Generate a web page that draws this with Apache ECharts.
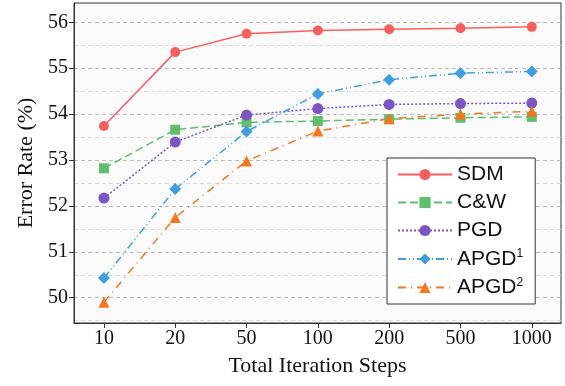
<!DOCTYPE html>
<html>
<head>
<meta charset="utf-8">
<script src="https://cdn.jsdelivr.net/npm/echarts@6/dist/echarts.min.js"></script>
<style>
  html, body { margin: 0; padding: 0; background: #fff; }
  #chart { width: 565px; height: 386px; }
</style>
</head>
<body>
<div id="chart"></div>
<script>
// x categories (total iteration steps)
const steps = ['10', '20', '50', '100', '200', '500', '1000'];

// error rate (%) per method
const sdm = [53.74, 55.35, 55.75, 55.82, 55.85, 55.87, 55.90];
const cw = [52.82, 53.66, 53.82, 53.85, 53.89, 53.92, 53.94];
const pgd = [52.17, 53.39, 53.98, 54.12, 54.21, 54.23, 54.24];
const apgd1 = [50.43, 52.37, 53.62, 54.44, 54.75, 54.89, 54.93];
const apgd2 = [49.90, 51.75, 52.98, 53.63, 53.90, 54.00, 54.06];

// y tick labels and half-step grid lines
const yTicks = [50, 51, 52, 53, 54, 55, 56];
const yHalf = [49.5, 50.5, 51.5, 52.5, 53.5, 54.5, 55.5];

const serif = '"Liberation Serif", "DejaVu Serif", serif';
const sans = '"Liberation Sans", Arial, sans-serif';

const chart = echarts.init(document.getElementById('chart'));

// index-based points so the outer padding matches the picture
const toPoints = (arr) => arr.map((v, i) => [i, v]);

const makeSeries = (name, data, color, symbol, size, dash) => ({
  name: name,
  type: 'line',
  data: toPoints(data),
  symbol: symbol,
  symbolSize: size,
  itemStyle: { color: color },
  lineStyle: { color: color, width: 1.5, type: dash },
  z: 3,
});

const option = {
  animation: false,
  grid: {
    left: 74,
    right: 4,
    top: 3,
    bottom: 63,
    show: true,
    backgroundColor: '#fafafa',
    borderColor: '#333',
    borderWidth: 1,
  },
  xAxis: {
    type: 'value',
    min: -0.42,
    max: 6.41,
    name: 'Total Iteration Steps',
    nameLocation: 'middle',
    nameGap: 32,
    nameTextStyle: { fontFamily: serif, fontSize: 22, color: '#111' },
    axisLine: { show: true, onZero: false, lineStyle: { color: '#333' } },
    axisTick: {
      show: true,
      inside: false,
      length: 5,
      customValues: [0, 1, 2, 3, 4, 5, 6],
      lineStyle: { color: '#333' },
    },
    axisLabel: {
      customValues: [0, 1, 2, 3, 4, 5, 6],
      formatter: (v) => steps[Math.round(v)],
      fontFamily: serif,
      fontSize: 20,
      color: '#111',
      margin: 6,
    },
    splitLine: { show: false },
  },
  yAxis: [
    {
      type: 'value',
      min: 49.45,
      max: 56.42,
      name: 'Error Rate (%)',
      nameLocation: 'middle',
      nameGap: 36,
      nameTextStyle: { fontFamily: serif, fontSize: 22, color: '#111' },
      axisLine: { show: true, onZero: false, lineStyle: { color: '#333' } },
      axisTick: {
        show: true,
        inside: false,
        length: 5,
        customValues: yTicks,
        lineStyle: { color: '#333' },
      },
      axisLabel: {
        customValues: yTicks,
        fontFamily: serif,
        fontSize: 20,
        color: '#111',
        margin: 6,
      },
      splitLine: {
        show: true,
        lineStyle: { color: '#bdbdbd', type: [4, 3], width: 1 },
      },
    },
    {
      type: 'value',
      position: 'left',
      min: 49.45,
      max: 56.42,
      axisLine: { show: false, onZero: false },
      axisTick: { show: false, customValues: yHalf },
      axisLabel: { show: false, customValues: yHalf },
      splitLine: {
        show: true,
        lineStyle: { color: '#dcdcdc', type: [4, 3], width: 1 },
      },
    },
  ],
  legend: {
    left: 387,
    top: 158,
    orient: 'vertical',
    itemWidth: 54,
    itemHeight: 14,
    itemGap: 7,
    padding: [6, 12, 6, 10],
    backgroundColor: '#fff',
    borderColor: '#333',
    borderWidth: 1,
    borderRadius: 0,
    textStyle: {
      fontFamily: sans,
      fontSize: 21,
      color: '#111',
      rich: {
        sup: { fontFamily: sans, fontSize: 12, color: '#111', padding: [0, 0, 10, 0] },
      },
    },
    formatter: (name) => {
      if (name === 'APGD1') return 'APGD{sup|1}';
      if (name === 'APGD2') return 'APGD{sup|2}';
      return name;
    },
    data: ['SDM', 'C&W', 'PGD', 'APGD1', 'APGD2'],
  },
  series: [
    makeSeries('SDM', sdm, '#f5605f', 'circle', 10, 'solid'),
    makeSeries('C&W', cw, '#5fbf6a', 'rect', 10, [8, 4]),
    makeSeries('PGD', pgd, '#7b55c3', 'circle', 11, [2, 2]),
    makeSeries('APGD1', apgd1, '#3f9fe0', 'diamond', 12, [8, 3, 1, 3, 1, 3]),
    makeSeries('APGD2', apgd2, '#f4771d', 'triangle', 11, [8, 5, 1, 5]),
  ],
};

chart.setOption(option);
</script>
</body>
</html>
